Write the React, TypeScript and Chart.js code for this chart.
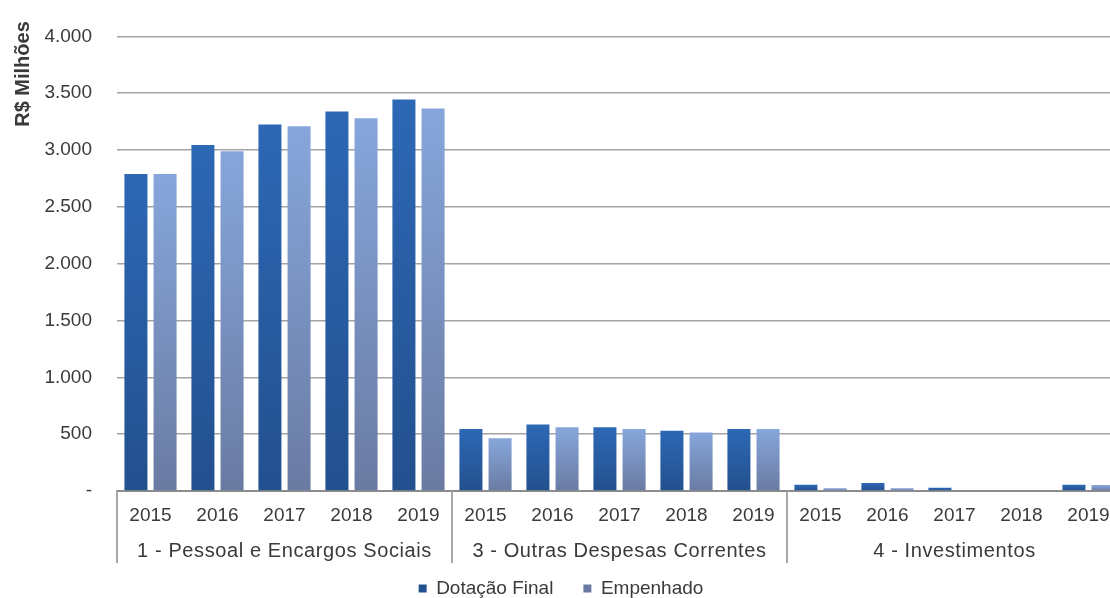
import React, { useEffect, useRef } from 'react';
import { Chart, registerables } from 'chart.js';

Chart.register(...registerables);

const groupNames = ['1 - Pessoal e Encargos Sociais', '3 - Outras Despesas Correntes', '4 - Investimentos'];
const years = ['2015', '2016', '2017', '2018', '2019'];
const dotacaoFinal = [2790, 3045, 3225, 3340, 3445, 545, 585, 560, 530, 545, 55, 70, 28, 0, 55];
const empenhado = [2790, 2990, 3210, 3280, 3365, 465, 560, 545, 515, 545, 25, 25, 0, 0, 52];
const yMax = 4000;
const yStep = 500;
const yTitle = 'R$ Milhões';
const seriesNames = ['Dotação Final', 'Empenhado'];

const labels = groupNames.flatMap(() => years);

const FONT = '"Liberation Sans", Arial, sans-serif';
const TEXT = '#3a3a3a';
const CW = 1136;
const CH = 608;
const PLOT_LEFT = 117;
const PLOT_BOTTOM = 491;

const fmt = (v: number) => (v === 0 ? '-' : String(v).replace(/\B(?=(\d{3})+(?!\d))/g, '.'));

const gradient = (top: string, bottom: string, legend: string) => (ctx: any) => {
  if (ctx.type !== 'data') return legend;
  const chart = ctx.chart;
  const ys = chart.scales && chart.scales.y;
  if (!ys) return top;
  const y0 = ys.getPixelForValue(ctx.raw as number);
  const y1 = ys.getPixelForValue(0);
  if (!isFinite(y0) || !isFinite(y1) || y1 - y0 < 1) return bottom;
  const g = chart.ctx.createLinearGradient(0, y0, 0, y1);
  g.addColorStop(0, top);
  g.addColorStop(1, bottom);
  return g;
};

const groupPlugin = {
  id: 'groupPlugin',
  afterDraw(chart: any) {
    const { ctx, chartArea } = chart;
    const xs = chart.scales.x;
    const n = years.length;
    ctx.save();
    // separators
    ctx.strokeStyle = '#a8a8a8';
    ctx.lineWidth = 2;
    for (let g = 0; g <= groupNames.length; g++) {
      const b = g * n;
      let px: number;
      if (b === 0) px = chartArea.left;
      else if (b >= labels.length) px = chartArea.right;
      else px = (xs.getPixelForValue(b - 1) + xs.getPixelForValue(b)) / 2;
      ctx.beginPath();
      ctx.moveTo(px, chartArea.bottom);
      ctx.lineTo(px, 563);
      ctx.stroke();
    }
    // group labels
    ctx.fillStyle = TEXT;
    ctx.font = `20px ${FONT}`;
    try { (ctx as any).letterSpacing = '0.6px'; } catch (e) { /* ignore */ }
    ctx.textAlign = 'center';
    ctx.textBaseline = 'middle';
    groupNames.forEach((name, g) => {
      const a = xs.getPixelForValue(g * n);
      const b = xs.getPixelForValue(g * n + n - 1);
      ctx.fillText(name, (a + b) / 2, 551);
    });
    try { (ctx as any).letterSpacing = '0px'; } catch (e) { /* ignore */ }
    // y title
    ctx.font = `bold 20px ${FONT}`;
    ctx.translate(23, 74);
    ctx.rotate(-Math.PI / 2);
    ctx.fillText(yTitle, 0, 0);
    ctx.restore();
  },
};

export default function App() {
  const ref = useRef<HTMLCanvasElement>(null);
  useEffect(() => {
    if (!ref.current) return;
    const chart = new Chart(ref.current, {
      type: 'bar',
      data: {
        labels,
        datasets: [
          {
            label: seriesNames[0],
            data: dotacaoFinal,
            backgroundColor: gradient('#2d68b5', '#23508e', '#2c5ca3') as any,
            borderWidth: 0,
            categoryPercentage: 0.87,
            barPercentage: 0.79,
          },
          {
            label: seriesNames[1],
            data: empenhado,
            backgroundColor: gradient('#86a6db', '#6a7ba2', '#8ba1d2') as any,
            borderWidth: 0,
            categoryPercentage: 0.87,
            barPercentage: 0.79,
          },
        ],
      },
      options: {
        responsive: false,
        animation: false,
        devicePixelRatio: 1,
        layout: { padding: { top: 27, right: 14, bottom: 0, left: 0 } },
        plugins: {
          legend: {
            position: 'bottom',
            labels: {
              boxWidth: 8,
              boxHeight: 8,
              padding: 30,
              color: TEXT,
              font: { family: FONT, size: 19 },
            },
          },
          tooltip: { enabled: false },
        },
        scales: {
          x: {
            grid: { display: false, drawTicks: false },
            border: { display: true, color: '#8c8c8c', width: 2 },
            ticks: {
              color: TEXT,
              font: { family: FONT, size: 19 },
              padding: 13,
              autoSkip: false,
              maxRotation: 0,
              minRotation: 0,
            },
            afterFit: (s: any) => {
              const lh = s.chart.legend ? s.chart.legend.height : 0;
              s.height = Math.max(0, CH - PLOT_BOTTOM - lh);
            },
          },
          y: {
            min: 0,
            max: yMax,
            grid: { color: '#a3a3a3', lineWidth: 1.5, drawTicks: false },
            border: { display: false },
            ticks: {
              stepSize: yStep,
              color: TEXT,
              font: { family: FONT, size: 19 },
              padding: 25,
              callback: (v: any) => fmt(Number(v)),
            },
            afterFit: (s: any) => {
              s.width = PLOT_LEFT;
            },
          },
        },
      },
      plugins: [groupPlugin],
    });
    return () => chart.destroy();
  }, []);
  return (
    <div style={{ position: 'fixed', left: 0, top: 0, width: 1110, height: 598, overflow: 'hidden', background: '#fff' }}>
      <canvas ref={ref} width={CW} height={CH} style={{ display: 'block', width: CW, height: CH }} />
    </div>
  );
}
